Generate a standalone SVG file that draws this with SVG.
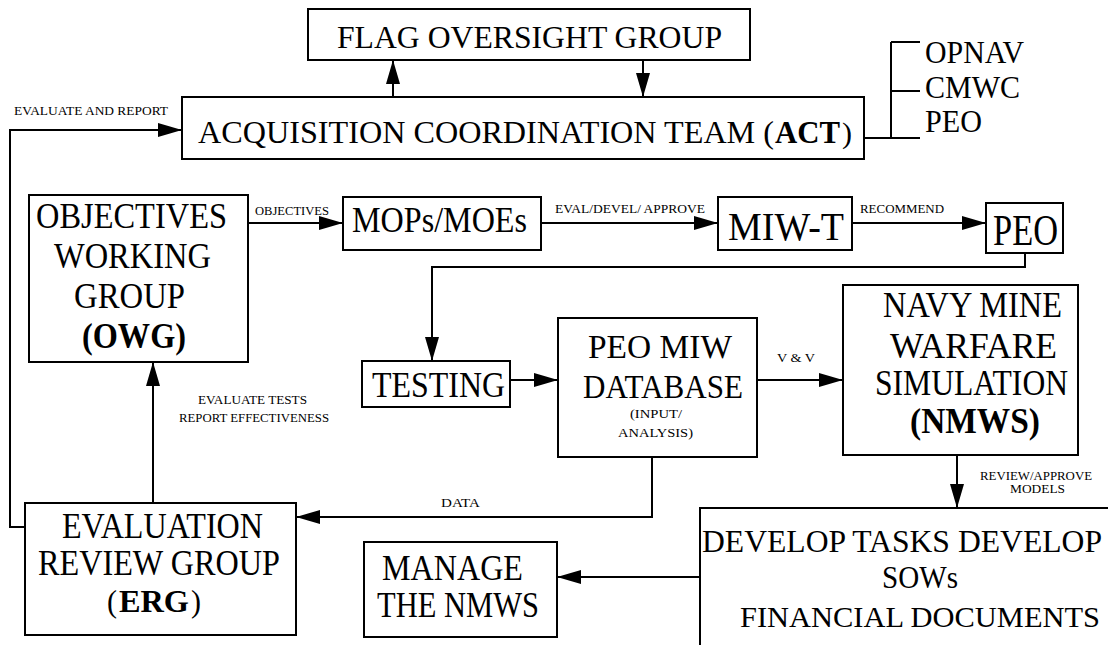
<svg xmlns="http://www.w3.org/2000/svg" width="1108" height="645" viewBox="0 0 1108 645">
<style>
.box{fill:#fff;stroke:#000;stroke-width:2}
.t{font-family:"Liberation Serif","Times New Roman",serif;fill:#000;font-size:35px}
.big{font-size:44px}
.sm{font-family:"Liberation Serif","Times New Roman",serif;fill:#000;font-size:12px}
.b{font-weight:bold}
.ln{fill:none;stroke:#000;stroke-width:2}
</style>
<defs>
<marker id="ah" viewBox="0 0 24 14" refX="24" refY="7" markerWidth="24" markerHeight="14" markerUnits="userSpaceOnUse" orient="auto">
<path d="M0,0 L24,7 L0,14 z" fill="#000"/>
</marker>
</defs>
<rect width="1108" height="645" fill="#fff"/>
<g id="connectors">
<path class="ln" d="M393,97 V60" marker-end="url(#ah)"/>
<path class="ln" d="M643,60 V97" marker-end="url(#ah)"/>
<path class="ln" d="M864,138 H920 M891,42 V138 M891,42 H920 M891,91 H920"/>
<path class="ln" d="M25,527 H10 V130 H182" marker-end="url(#ah)"/>
<path class="ln" d="M248,223 H343" marker-end="url(#ah)"/>
<path class="ln" d="M541,223 H718" marker-end="url(#ah)"/>
<path class="ln" d="M852,223 H986" marker-end="url(#ah)"/>
<path class="ln" d="M1025,253 V267 H432 V361" marker-end="url(#ah)"/>
<path class="ln" d="M510,380 H558" marker-end="url(#ah)"/>
<path class="ln" d="M757,380 H843" marker-end="url(#ah)"/>
<path class="ln" d="M957,455 V508" marker-end="url(#ah)"/>
<path class="ln" d="M652,457 V517 H296" marker-end="url(#ah)"/>
<path class="ln" d="M700,577 H557" marker-end="url(#ah)"/>
<path class="ln" d="M153,503 V362" marker-end="url(#ah)"/>
<text class="sm" x="14" y="115" textLength="154" lengthAdjust="spacingAndGlyphs">EVALUATE AND REPORT</text>
<text class="sm" x="255" y="215" textLength="74" lengthAdjust="spacingAndGlyphs">OBJECTIVES</text>
<text class="sm" x="555" y="213" textLength="150" lengthAdjust="spacingAndGlyphs">EVAL/DEVEL/ APPROVE</text>
<text class="sm" x="860" y="213" textLength="84" lengthAdjust="spacingAndGlyphs">RECOMMEND</text>
<text class="sm" x="777" y="362" textLength="38" lengthAdjust="spacingAndGlyphs">V &amp; V</text>
<text class="sm" x="198" y="404" textLength="109" lengthAdjust="spacingAndGlyphs">EVALUATE TESTS</text>
<text class="sm" x="179" y="422" textLength="150" lengthAdjust="spacingAndGlyphs">REPORT EFFECTIVENESS</text>
<text class="sm" x="441" y="507" textLength="39" lengthAdjust="spacingAndGlyphs">DATA</text>
<text class="sm" x="980" y="480" textLength="112" lengthAdjust="spacingAndGlyphs">REVIEW/APPROVE</text>
<text class="sm" x="1010" y="493" textLength="55" lengthAdjust="spacingAndGlyphs">MODELS</text>
</g>
<g id="flag">
<rect class="box" x="308" y="9" width="442" height="51"/>
<text class="t" x="337" y="48" style="font-size:32px" textLength="385" lengthAdjust="spacingAndGlyphs">FLAG OVERSIGHT GROUP</text>
</g>
<g id="act">
<rect class="box" x="182" y="97" width="682" height="62"/>
<text class="t" x="198" y="143" style="font-size:32px" textLength="576" lengthAdjust="spacingAndGlyphs">ACQUISITION COORDINATION TEAM (</text>
<text class="t b" x="775" y="143" style="font-size:31px" textLength="65" lengthAdjust="spacingAndGlyphs">ACT</text>
<text class="t" x="842" y="143" style="font-size:30px" textLength="10" lengthAdjust="spacingAndGlyphs">)</text>
</g>
<g id="members">
<text class="t" x="925" y="63" style="font-size:31px" textLength="99" lengthAdjust="spacingAndGlyphs">OPNAV</text>
<text class="t" x="925" y="98" style="font-size:31px" textLength="95" lengthAdjust="spacingAndGlyphs">CMWC</text>
<text class="t" x="925" y="132" style="font-size:31px" textLength="57" lengthAdjust="spacingAndGlyphs">PEO</text>
</g>
<g id="owg">
<rect class="box" x="29" y="195" width="219" height="167"/>
<text class="t" x="36" y="228" style="font-size:36px" textLength="191" lengthAdjust="spacingAndGlyphs">OBJECTIVES</text>
<text class="t" x="54" y="268" style="font-size:36px" textLength="157" lengthAdjust="spacingAndGlyphs">WORKING</text>
<text class="t" x="74" y="308" style="font-size:36px" textLength="111" lengthAdjust="spacingAndGlyphs">GROUP</text>
<text class="t b" x="82" y="348" style="font-size:36px" textLength="104" lengthAdjust="spacingAndGlyphs">(OWG)</text>
</g>
<g id="mops">
<rect class="box" x="343" y="197" width="198" height="53"/>
<text class="t" x="352" y="232" textLength="175" lengthAdjust="spacingAndGlyphs">MOPs/MOEs</text>
</g>
<g id="miwt">
<rect class="box" x="718" y="197" width="134" height="53"/>
<text class="t" x="728" y="240" style="font-size:40px" textLength="116" lengthAdjust="spacingAndGlyphs">MIW-T</text>
</g>
<g id="peo">
<rect class="box" x="986" y="203" width="77" height="50"/>
<text class="t big" x="993" y="245" textLength="65" lengthAdjust="spacingAndGlyphs">PEO</text>
</g>
<g id="testing">
<rect class="box" x="362" y="361" width="148" height="46"/>
<text class="t" x="372" y="397" textLength="133" lengthAdjust="spacingAndGlyphs">TESTING</text>
</g>
<g id="database">
<rect class="box" x="558" y="318" width="199" height="139"/>
<text class="t" x="588" y="358" style="font-size:34px" textLength="144" lengthAdjust="spacingAndGlyphs">PEO MIW</text>
<text class="t" x="583" y="398" style="font-size:34px" textLength="160" lengthAdjust="spacingAndGlyphs">DATABASE</text>
<text class="sm" x="630" y="418" style="font-size:13px" textLength="52" lengthAdjust="spacingAndGlyphs">(INPUT/</text>
<text class="sm" x="618" y="437" style="font-size:13px" textLength="75" lengthAdjust="spacingAndGlyphs">ANALYSIS)</text>
</g>
<g id="nmws">
<rect class="box" x="843" y="285" width="235" height="170"/>
<text class="t" x="883" y="317" textLength="179" lengthAdjust="spacingAndGlyphs">NAVY MINE</text>
<text class="t" x="890" y="358" textLength="167" lengthAdjust="spacingAndGlyphs">WARFARE</text>
<text class="t" x="875" y="395" textLength="193" lengthAdjust="spacingAndGlyphs">SIMULATION</text>
<text class="t b" x="910" y="433" textLength="130" lengthAdjust="spacingAndGlyphs">(NMWS)</text>
</g>
<g id="erg">
<rect class="box" x="25" y="503" width="271" height="132"/>
<text class="t" x="62" y="538" textLength="201" lengthAdjust="spacingAndGlyphs">EVALUATION</text>
<text class="t" x="38" y="575" textLength="242" lengthAdjust="spacingAndGlyphs">REVIEW GROUP</text>
<text class="t" x="107" y="612" style="font-size:32px" textLength="10" lengthAdjust="spacingAndGlyphs">(</text>
<text class="t b" x="119" y="612" style="font-size:32px" textLength="70" lengthAdjust="spacingAndGlyphs">ERG</text>
<text class="t" x="191" y="612" style="font-size:32px" textLength="10" lengthAdjust="spacingAndGlyphs">)</text>
</g>
<g id="manage">
<rect class="box" x="364" y="542" width="193" height="95"/>
<text class="t" x="382" y="580" textLength="141" lengthAdjust="spacingAndGlyphs">MANAGE</text>
<text class="t" x="377" y="617" textLength="162" lengthAdjust="spacingAndGlyphs">THE NMWS</text>
</g>
<g id="develop">
<rect class="box" x="700" y="508" width="430" height="160"/>
<text class="t" x="702" y="552" style="font-size:31px" textLength="400" lengthAdjust="spacingAndGlyphs">DEVELOP TASKS DEVELOP</text>
<text class="t" x="882" y="588" style="font-size:32px" textLength="76" lengthAdjust="spacingAndGlyphs">SOWs</text>
<text class="t" x="740" y="627" style="font-size:30px" textLength="360" lengthAdjust="spacingAndGlyphs">FINANCIAL DOCUMENTS</text>
</g>
</svg>
